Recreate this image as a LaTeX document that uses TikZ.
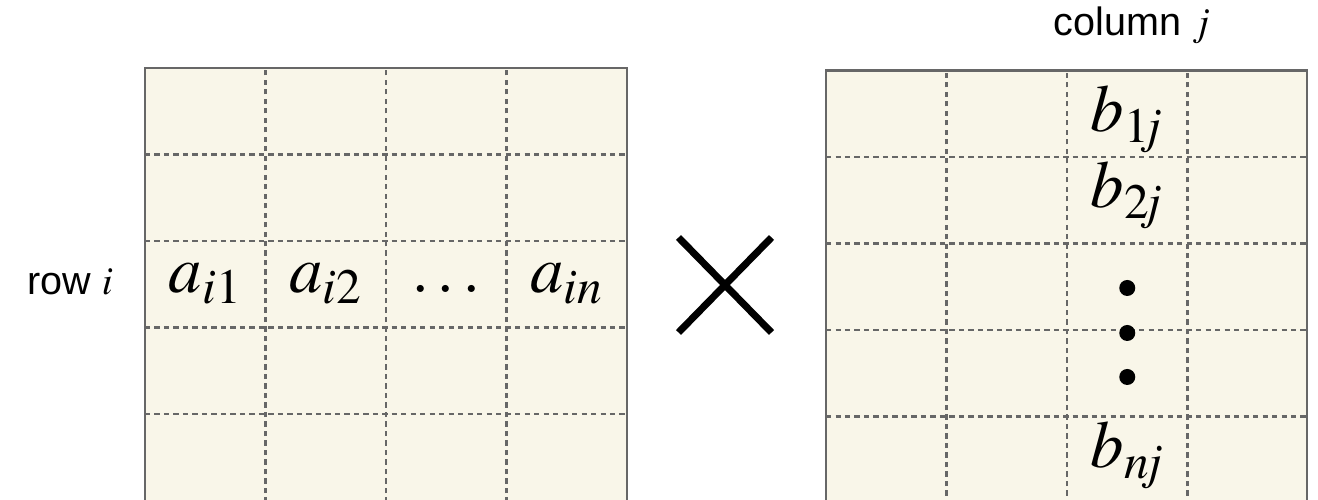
\documentclass[tikz,border=0pt]{standalone}
\usepackage{mathptmx}
\usepackage[no-math]{fontspec}
\setmainfont{Liberation Sans}
\usetikzlibrary{calc}
\definecolor{GridLine}{HTML}{676767}
\definecolor{CellBack}{HTML}{F9F6E9}
\tikzset{mat/.style={draw=GridLine,line width=1.5pt,fill=CellBack},
 sep/.style={draw=GridLine,dash pattern=on 3pt off 2.4pt,line width=1.2pt},
 entry/.style={font=\fontsize{38}{42}\selectfont,inner sep=0pt,anchor=base},
 lab/.style={font=\fontsize{22.5}{26}\selectfont,inner sep=0pt}}
\begin{document}
\begin{tikzpicture}
\useasboundingbox (0,0) rectangle (26.36,10);
% left matrix, row i
\draw[mat] (2.9,-.05) rectangle (12.54,8.64);
\foreach \k in {1,2,3}
 \draw[sep] (2.9+2.41*\k,-.05)--(2.9+2.41*\k,8.64);
\foreach \k in {1,...,4}
 \draw[sep] (2.9,8.64-1.73*\k)--(12.54,8.64-1.73*\k);
\foreach \k/\txt in {1/a_{i1},2/a_{i2},3/\ldots,4/a_{in}}
 \node[entry] (a\k) at (1.695+2.41*\k,4.14) {$\txt$};
\node[lab] (row) at (1.4,4.36) {row $i$};
% times sign
\coordinate (xc) at (14.5,4.3);
\draw[line width=4pt] ($(xc)+(-.93,-.95)$)--($(xc)+(.93,.95)$);
\draw[line width=4pt] ($(xc)+(-.93,.95)$)--($(xc)+(.93,-.95)$);
% right matrix, column j
\draw[mat] (16.52,-.1) rectangle (26.14,8.59);
\foreach \k in {1,2,3}
 \draw[sep] (16.52+2.41*\k,-.1)--(16.52+2.41*\k,8.59);
\foreach \k in {1,...,4}
 \draw[sep] (16.52,8.59-1.73*\k)--(26.14,8.59-1.73*\k);
\node[entry] (b1) at (22.545,7.36) {$b_{1\mkern-3mu j}$};
\node[entry] (b2) at (22.545,5.84) {$b_{2\mkern-3mu j}$};
\node[entry] (bn) at (22.545,0.64) {$b_{n\mkern-3mu j}$};
\foreach \y in {4.24,3.34,2.46}
 \fill (22.545,\y) circle (.16);
\node[lab] (col) at (22.64,9.5) {column $j$};
\end{tikzpicture}
\end{document}
